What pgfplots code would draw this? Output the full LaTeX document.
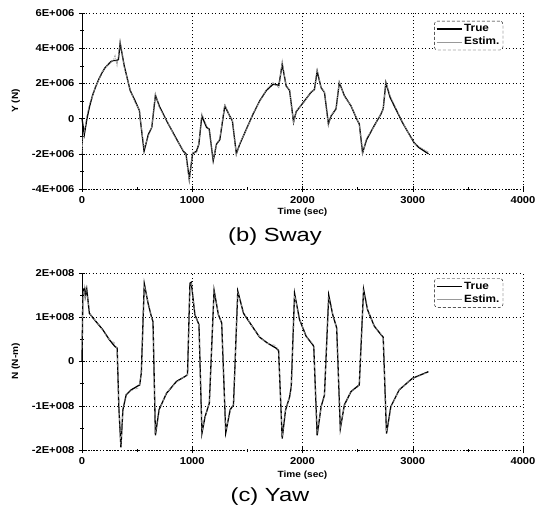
\documentclass[border=0pt]{standalone}
\usepackage{fontspec}
\setmainfont{Liberation Sans}
\newfontfamily\tickfont[FakeStretch=1.12]{Liberation Sans Bold}
\newfontfamily\capfont[FakeStretch=1.25]{Liberation Sans}
\usepackage{pgfplots}
\usepackage{pgfplotstable}
\pgfplotsset{compat=1.18}

\pgfplotstableread{
t y
0 0
21 -0.9
45 0
69 0.7
95 1.3
120 1.75
150 2.2
181 2.6
210 2.9
241 3.1
265 3.25
286 3.3
310 3.3
330 3.35
346 4.3
383 3.0
437 1.6
482 1.0
521 0.45
527 0.05
563 -1.85
602 -0.9
633 -0.5
666 1.33
702 0.7
768 -0.13
843 -1.0
919 -1.85
943 -2.0
973 -3.45
1003 -2.0
1039 -1.85
1060 -1.45
1087 0.15
1130 -0.5
1154 -0.6
1190 -2.4
1220 -1.45
1250 -1.2
1295 0.72
1340 0.15
1364 -0.13
1400 -2.0
1431 -1.45
1491 -0.6
1551 0.25
1611 1.0
1672 1.6
1732 1.95
1786 1.9
1816 3.1
1852 1.85
1883 1.6
1919 -0.2
1943 0.4
2018 1.0
2078 1.5
2108 1.65
2133 2.7
2169 1.75
2199 1.5
2235 -0.3
2259 0.15
2304 0.55
2334 2.05
2380 1.3
2440 0.72
2500 -0.13
2515 -0.3
2545 -1.95
2581 -1.2
2651 -0.4
2711 0.25
2732 0.55
2756 2.05
2795 1.2
2907 -0.23
3012 -1.37
3057 -1.65
3142 -2.0
}\swaytrue

\pgfplotstableread{
t y
0 -2.0
10 -1.0
21 -0.75
45 0.2
69 0.85
95 1.25
120 1.8
150 2.15
181 2.65
210 2.85
241 3.15
265 3.2
286 3.35
300 3.6
318 3.0
346 4.4
383 2.9
437 1.65
482 0.9
521 0.5
527 0.1
563 -1.7
602 -1.0
633 -0.45
666 1.45
702 0.6
768 -0.1
843 -1.05
919 -1.8
943 -2.1
973 -3.6
1003 -1.9
1039 -1.95
1060 -1.4
1087 0.3
1130 -0.4
1154 -0.7
1190 -2.3
1220 -1.5
1250 -1.1
1295 0.85
1340 0.1
1364 -0.05
1400 -2.1
1431 -1.4
1491 -0.65
1551 0.3
1611 0.95
1672 1.65
1732 2.05
1786 1.75
1816 3.3
1852 1.8
1883 1.65
1919 -0.3
1943 0.45
2018 0.95
2078 1.55
2108 1.6
2133 2.85
2169 1.7
2199 1.55
2235 -0.45
2259 0.2
2304 0.5
2334 2.1
2380 1.25
2440 0.75
2500 -0.1
2515 -0.35
2545 -2.05
2581 -1.1
2651 -0.45
2711 0.3
2732 0.5
2756 2.1
2795 1.3
2907 -0.2
3012 -1.4
3057 -1.6
3142 -1.9
}\swayest

\pgfplotstableread{
t y
0 0.0
8 1.55
12 1.62
24 1.66
30 1.47
43 1.64
67 1.09
95 1.0
128 0.9
188 0.72
249 0.49
295 0.35
319 0.3
334 -1.02
353 -1.94
371 -1.09
401 -0.75
447 -0.64
508 -0.55
523 -0.53
538 -0.26
565 1.76
599 1.32
629 1.02
644 0.9
666 -1.67
699 -1.09
766 -0.72
857 -0.45
933 -0.34
957 -0.3
979 1.77
991 1.79
1024 1.06
1061 0.83
1088 -1.62
1116 -1.25
1155 -0.94
1198 1.61
1237 1.06
1267 0.87
1304 -1.61
1344 -1.09
1374 -0.98
1413 1.59
1465 1.09
1556 0.75
1611 0.55
1680 0.42
1762 0.3
1783 0.25
1816 -1.74
1846 -1.1
1883 -0.8
1898 -0.57
1928 1.54
1973 0.95
2033 0.57
2093 0.38
2102 0.34
2133 -1.67
2169 -1.02
2199 -0.76
2238 1.5
2274 1.06
2310 0.76
2343 -1.52
2380 -0.98
2440 -0.68
2494 -0.57
2515 -0.53
2554 1.63
2590 1.17
2651 0.8
2711 0.61
2732 0.55
2762 -1.63
2801 -1.02
2877 -0.64
2997 -0.38
3142 -0.23
}\yawtrue

\pgfplotstableread{
t y
0 0.3
8 1.5
12 1.55
24 1.7
30 1.4
43 1.6
67 1.12
95 0.98
128 0.92
188 0.7
249 0.5
295 0.42
319 0.28
334 -1.0
353 -1.9
371 -1.12
401 -0.73
447 -0.66
508 -0.6
523 -0.5
538 -0.3
565 1.72
599 1.35
629 1.0
644 0.92
666 -1.62
699 -1.12
766 -0.7
857 -0.47
933 -0.33
957 -0.32
979 1.74
991 1.8
1024 1.08
1061 0.8
1088 -1.58
1116 -1.28
1155 -0.92
1198 1.58
1237 1.08
1267 0.85
1304 -1.57
1344 -1.12
1374 -0.96
1413 1.56
1465 1.11
1556 0.74
1611 0.56
1680 0.41
1762 0.36
1783 0.24
1816 -1.7
1846 -1.12
1883 -0.78
1898 -0.6
1928 1.5
1973 0.97
2033 0.56
2093 0.4
2102 0.32
2133 -1.63
2169 -1.05
2199 -0.74
2238 1.47
2274 1.08
2310 0.74
2343 -1.48
2380 -1.0
2440 -0.66
2494 -0.62
2515 -0.51
2554 1.6
2590 1.19
2651 0.79
2711 0.63
2732 0.53
2762 -1.6
2801 -1.04
2877 -0.63
2997 -0.39
3142 -0.24
}\yawest

\pgfplotsset{
  myaxis/.style={
    scale only axis,
    width=441pt,
    xmin=0, xmax=4000,
    xtick={0,1000,2000,3000,4000},
    xticklabels={0,1000,2000,3000,4000},
    minor xtick={500,1500,2500,3500},
    axis lines=left,
    axis line style={-, line width=0.5pt},
    x axis line style={dash pattern=on 1pt off 2pt},
    tick align=center,
    major tick length=6pt,
    minor tick length=3pt,
    tick style={black, line width=0.5pt},
    grid=major,
    major grid style={black, line width=0.5pt, dash pattern=on 1pt off 2.5pt},
    ticklabel style={font=\tickfont\fontsize{10}{12}\selectfont},
    xticklabel style={yshift=-1pt},
    yticklabel style={xshift=-1pt},
    label style={font=\tickfont\fontsize{9}{11}\selectfont},
    legend cell align=left,
    legend style={font=\tickfont\fontsize{10.5}{12}\selectfont, draw=black, dash pattern=on 3pt off 2pt, rounded corners=3pt, inner sep=1.5pt, row sep=0pt, anchor=north east, legend image code/.code={\draw[solid,##1] (0pt,0pt) -- (25pt,0pt);}},
    clip=false,
  }
}

\begin{document}
\begin{tikzpicture}
\path[use as bounding box] (0,0) rectangle (541pt,523pt);

\begin{axis}[myaxis,
  at={(82pt,334pt)}, anchor=south west,
  height=176pt,
  ymin=-4e6, ymax=6e6,
  ytick={-4e6,-2e6,0,2e6,4e6,6e6},
  yticklabels={-4E+006,-2E+006,0,2E+006,4E+006,6E+006},
  minor ytick={-3e6,-1e6,1e6,3e6,5e6},
  scaled y ticks=false,
  xlabel={Time (sec)},
  ylabel={Y (N)},
  xlabel style={at={(axis description cs:0.5,-0.13)}, anchor=center},
  ylabel style={at={(axis description cs:-0.15,0.5)}, anchor=center},
  legend style={at={(axis description cs:0.955,0.955)}},
]
\addplot[black, line width=1.3pt] table[x=t, y expr=\thisrow{y}*1e6] {\swaytrue};
\addlegendentry{True}
\addplot[gray!80, line width=0.6pt, dash pattern=on 4pt off 1pt on 1pt off 1pt] table[x=t, y expr=\thisrow{y}*1e6] {\swayest};
\addlegendentry{Estim.}
\end{axis}

\node[font=\capfont\fontsize{19}{22}\selectfont] at (275pt,286pt) {(b) Sway};

\begin{axis}[myaxis,
  at={(82pt,73pt)}, anchor=south west,
  height=177pt,
  ymin=-2e8, ymax=2e8,
  ytick={-2e8,-1e8,0,1e8,2e8},
  yticklabels={-2E+008,-1E+008,0,1E+008,2E+008},
  minor ytick={-1.5e8,-0.5e8,0.5e8,1.5e8},
  scaled y ticks=false,
  xlabel={Time (sec)},
  ylabel={N (N-m)},
  xlabel style={at={(axis description cs:0.5,-0.142)}, anchor=center},
  ylabel style={at={(axis description cs:-0.15,0.5)}, anchor=center},
  legend style={at={(axis description cs:0.955,0.97)}},
]
\addplot[black, line width=1.3pt] table[x=t, y expr=\thisrow{y}*1e8] {\yawtrue};
\addlegendentry{True}
\addplot[gray!80, line width=0.6pt, dash pattern=on 3pt off 3pt] table[x=t, y expr=\thisrow{y}*1e8] {\yawest};
\addlegendentry{Estim.}
\end{axis}

\node[font=\capfont\fontsize{19}{22}\selectfont] at (270pt,26pt) {(c) Yaw};
\end{tikzpicture}
\end{document}
